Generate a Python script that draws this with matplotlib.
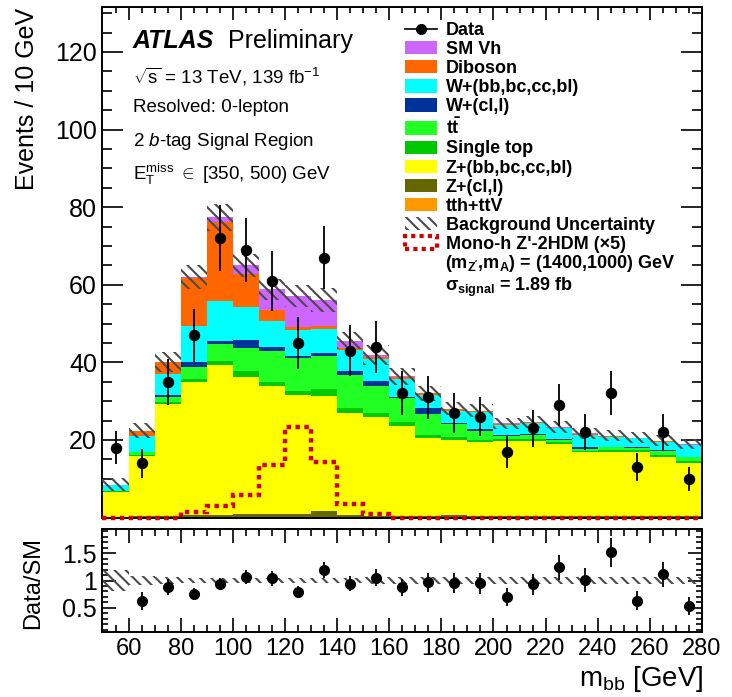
import numpy as np
import matplotlib
matplotlib.use("Agg")
import matplotlib.pyplot as plt
from matplotlib.patches import Patch
from matplotlib.lines import Line2D
from matplotlib.ticker import MultipleLocator, FuncFormatter, FixedLocator
from matplotlib import font_manager as fm

# ---------------------------------------------------------------- data
mbb_edges = np.arange(50, 281, 10)          # GeV, 10 GeV bins

data = [18, 14, 35, 47, 72, 69, 61, 45, 67, 43, 44, 32,
        31, 27, 26, 17, 23, 29, 22, 32, 13, 22, 10]

tth_ttv = [0.05, 0.1, 0.1, 0.2, 0.2, 0.2, 0.2, 0.2, 0.2, 0.1, 0.1, 0.1,
           0.1, 0.1, 0.1, 0.1, 0.1, 0.1, 0.1, 0.1, 0.1, 0.1, 0.1]
z_light = [0.2, 0.3, 0.3, 0.4, 0.5, 0.8, 0.8, 0.8, 1.6, 0.6, 0.4, 0.3,
           0.3, 0.5, 0.4, 0.3, 0.3, 0.2, 0.3, 0.3, 0.3, 0.3, 0.3]
z_heavy = [6.4, 15.5, 28.9, 34.3, 38.7, 35.3, 32.8, 30.6, 29.6, 26.2, 25.3, 23.1,
           20.1, 19.5, 19.1, 19.4, 19.4, 18.6, 16.4, 16.6, 16.6, 15.3, 13.7]
single_top = [0.1, 0.3, 0.5, 0.9, 0.9, 1.5, 1.1, 0.9, 1.7, 1.3, 1.1, 1.2,
              0.9, 0.6, 0.5, 0.5, 0.5, 0.5, 0.4, 0.4, 0.4, 0.4, 0.5]
ttbar = [0.1, 0.6, 1.4, 2.9, 4.5, 6.0, 8.0, 8.6, 8.6, 8.6, 7.0, 6.1,
         5.4, 3.4, 2.1, 0.8, 1.1, 0.6, 0.5, 0.7, 0.6, 1.0, 0.9]
w_light = [0.1, 0.2, 0.3, 1.3, 0.6, 1.9, 1.0, 0.5, 0.6, 0.9, 1.2, 0.2,
           1.5, 0.3, 0.6, 0.2, 0.2, 0.2, 0.5, 0.2, 0.2, 0.2, 0.2]
w_heavy = [1.4, 4.1, 5.4, 9.4, 10.3, 8.6, 6.7, 6.8, 6.3, 5.5, 5.7, 4.8,
           3.2, 3.0, 4.4, 2.6, 2.7, 2.8, 3.2, 2.5, 2.2, 2.3, 3.0]
diboson = [0.1, 1.2, 3.1, 12.3, 20.6, 8.6, 3.0, 0.7, 0.7, 0.6, 0.5, 0.4,
           0.5, 0.6, 0.2, 0.3, 0.3, 0.2, 0.2, 0.2, 0.1, 0.1, 0.1]
sm_vh = [0.0, 0.1, 0.1, 0.4, 1.1, 2.1, 5.2, 7.9, 6.8, 1.8, 0.6, 0.2,
         0.1, 0.1, 0.1, 0.1, 0.1, 0.1, 0.1, 0.1, 0.1, 0.1, 0.1]

# relative background uncertainty per bin
bkg_rel_unc = [0.20, 0.09, 0.065, 0.05, 0.045, 0.045, 0.045, 0.05, 0.055, 0.05, 0.06, 0.06,
               0.06, 0.06, 0.06, 0.06, 0.065, 0.065, 0.065, 0.065, 0.07, 0.07, 0.07]

# Mono-h Z'-2HDM signal, scaled by 5
signal_x5 = [0, 0, 0, 1.4, 3.0, 5.8, 13.5, 23.3, 14.4, 3.6, 1.0, 0,
             0, 0, 0, 0, 0, 0, 0, 0, 0, 0, 0]

# stacking order, bottom to top
stack = [
    ("tth+ttV", tth_ttv, "#ff9900"),
    ("Z+(cl,l)", z_light, "#666600"),
    ("Z+(bb,bc,cc,bl)", z_heavy, "#ffff00"),
    ("Single top", single_top, "#00c800"),
    (r"t$\mathbf{\bar{t}}$", ttbar, "#22ff22"),
    ("W+(cl,l)", w_light, "#003399"),
    ("W+(bb,bc,cc,bl)", w_heavy, "#00ffff"),
    ("Diboson", diboson, "#ff6600"),
    ("SM Vh", sm_vh, "#cc66ff"),
]

# ---------------------------------------------------------------- style
names = {f.name for f in fm.fontManager.ttflist}
SANS = "Liberation Sans"
NARROW = "Liberation Sans Narrow" if "Liberation Sans Narrow" in names else SANS

plt.rcParams.update({
    "font.family": [SANS, "DejaVu Sans"],
    "mathtext.fontset": "custom",
    "mathtext.rm": SANS,
    "mathtext.it": SANS + ":italic",
    "mathtext.bf": SANS + ":bold",
    "mathtext.sf": SANS,
    "hatch.linewidth": 1.5,
    "axes.linewidth": 1.4,
})

W, H = 732, 697
fig = plt.figure(figsize=(W / 100, H / 100), dpi=100)


def fx(px):
    return px / W


def fy(py):
    return 1 - py / H


ax = fig.add_axes([fx(102.5), fy(517.6), fx(702) - fx(102.5), fy(7.3) - fy(517.6)])
rax = fig.add_axes([fx(102.5), fy(632.3), fx(702) - fx(102.5), fy(528.7) - fy(632.3)])

edges = mbb_edges
centers = 0.5 * (edges[:-1] + edges[1:])
widths = np.diff(edges)
data_arr = np.array(data, dtype=float)
HATCH = "\\\\\\"
HATCH_COL = "#4a4a4a"

# ---------------------------------------------------------------- stacked backgrounds
base = np.zeros(len(centers))
for name, vals, col in stack:
    vals = np.asarray(vals, dtype=float)
    ax.stairs(base + vals, edges, baseline=base.copy(), fill=True,
              facecolor=col, edgecolor="none", linewidth=0, zorder=2)
    base = base + vals
total = base

# background uncertainty band
rel = np.asarray(bkg_rel_unc)
unc = total * rel
ax.bar(edges[:-1], 2 * unc, bottom=total - unc, width=widths, align="edge",
       fill=False, hatch=HATCH, edgecolor=HATCH_COL, linewidth=0, zorder=3)

# signal
ax.stairs(signal_x5, edges, baseline=None, color="#d00000", linewidth=3.2,
          linestyle=(0, (1, 1)), zorder=4, clip_on=False)

# data
ax.errorbar(centers, data_arr, yerr=np.sqrt(data_arr), fmt="o", color="black",
            markersize=7.2, elinewidth=1.3, capsize=0, zorder=6)

ax.set_xlim(50, 280)
ax.set_ylim(0, 131.5)

# ---------------------------------------------------------------- ratio panel
ratio = data_arr / total
ratio_err = np.sqrt(data_arr) / total
rlo, rhi = 0.05, 1.95
inside = (ratio > rlo) & (ratio < rhi)
rax.bar(edges[:-1], 2 * rel, bottom=1 - rel, width=widths, align="edge",
        fill=False, hatch=HATCH, edgecolor=HATCH_COL, linewidth=0, zorder=2)
rax.errorbar(centers[inside], ratio[inside], yerr=ratio_err[inside], fmt="o",
             color="black", markersize=7.0, elinewidth=1.3, capsize=0, zorder=5)
rax.set_xlim(50, 280)
rax.set_ylim(rlo, rhi)

# ---------------------------------------------------------------- axes cosmetics
for a in (ax, rax):
    a.xaxis.set_major_locator(MultipleLocator(20))
    a.xaxis.set_minor_locator(MultipleLocator(5))
    a.tick_params(which="both", direction="in", top=True, right=True, width=1.2)

ax.yaxis.set_major_locator(MultipleLocator(20))
ax.yaxis.set_minor_locator(MultipleLocator(5))
ax.yaxis.set_major_formatter(FuncFormatter(lambda v, p: "" if v == 0 else f"{v:g}"))
ax.tick_params(axis="x", which="major", length=9, labelbottom=False)
ax.tick_params(axis="x", which="minor", length=4.5)
ax.tick_params(axis="y", which="major", length=15, labelsize=18, pad=4)
ax.tick_params(axis="y", which="minor", length=7.5)

rax.yaxis.set_major_locator(FixedLocator([0.5, 1.0, 1.5]))
rax.yaxis.set_minor_locator(MultipleLocator(0.1))
rax.yaxis.set_major_formatter(FuncFormatter(lambda v, p: f"{v:g}"))
rax.tick_params(axis="x", which="major", length=10, pad=4)
rax.tick_params(axis="x", which="minor", length=5)
rax.tick_params(axis="y", which="major", length=10, pad=4)
rax.tick_params(axis="y", which="minor", length=4)
for lab in rax.get_xticklabels():
    lab.set_fontfamily(NARROW)
    lab.set_fontsize(17)
for lab in rax.get_yticklabels():
    lab.set_fontfamily(NARROW)
    lab.set_fontsize(18)

fig.text(fx(27), fy(8), "Events / 10 GeV", rotation=90, ha="center", va="top",
         fontsize=18)
fig.text(fx(33), fy(583), "Data/SM", rotation=90, ha="center", va="center",
         fontsize=17, family=NARROW)
fig.text(fx(703), fy(686), r"m$_{\mathregular{bb}}$ [GeV]", ha="right", va="baseline",
         fontsize=20, family=NARROW)

# ---------------------------------------------------------------- labels
fig.text(fx(133), fy(48), "ATLAS", fontsize=18, fontweight="bold", fontstyle="italic",
         va="baseline")
fig.text(fx(228), fy(48), "Preliminary", fontsize=18, va="baseline")
fig.text(fx(133), fy(83), r"$\sqrt{\mathrm{s}}$ = 13 TeV, 139 fb$^{\mathrm{-1}}$",
         fontsize=13.5, va="baseline")
fig.text(fx(133), fy(112), "Resolved: 0-lepton", fontsize=13.5, va="baseline")
fig.text(fx(133), fy(146), r"2 $\mathit{b}$-tag Signal Region", fontsize=13.5,
         va="baseline")
fig.text(fx(133), fy(180),
         r"E$_{\mathrm{T}}^{\mathrm{miss}}$ $\in$ [350, 500) GeV",
         fontsize=13.5, va="baseline")

# ---------------------------------------------------------------- legend
LEG_FS = 13
handles = [Line2D([0], [0], marker="o", color="black", lw=1.2, markersize=7)]
labels = ["Data"]
for name, vals, col in reversed(stack):
    handles.append(Patch(facecolor=col, edgecolor="none"))
    labels.append(name)
handles.append(Patch(facecolor="none", hatch=HATCH, edgecolor=HATCH_COL, linewidth=0))
labels.append("Background Uncertainty")
handles.append(Patch(facecolor="none", edgecolor="#d00000", linewidth=3,
                     linestyle=(0, (1, 1))))
labels.append("Mono-h Z'-2HDM (×5)")

ax_h = 517.6 - 7.3
leg = ax.legend(handles, labels, loc="upper left",
                bbox_to_anchor=((405 - 102.5) / 599.5, (517.6 - 22) / ax_h),
                frameon=False, borderpad=0, borderaxespad=0,
                handlelength=1.75, handleheight=0.75, handletextpad=0.5,
                labelspacing=0.115, prop={"size": LEG_FS, "weight": "bold"})
leg.set_zorder(10)

fig.text(fx(445), fy(268.5), r"(m$_{\mathbf{Z'}}$,m$_{\mathbf{A}}$) = (1400,1000) GeV",
         fontsize=LEG_FS, fontweight="bold", va="baseline", zorder=10)
fig.text(fx(445), fy(291), r"σ$_{\mathbf{signal}}$ = 1.89 fb",
         fontsize=LEG_FS, fontweight="bold", va="baseline", zorder=10)

fig.savefig("out.png", dpi=100)
